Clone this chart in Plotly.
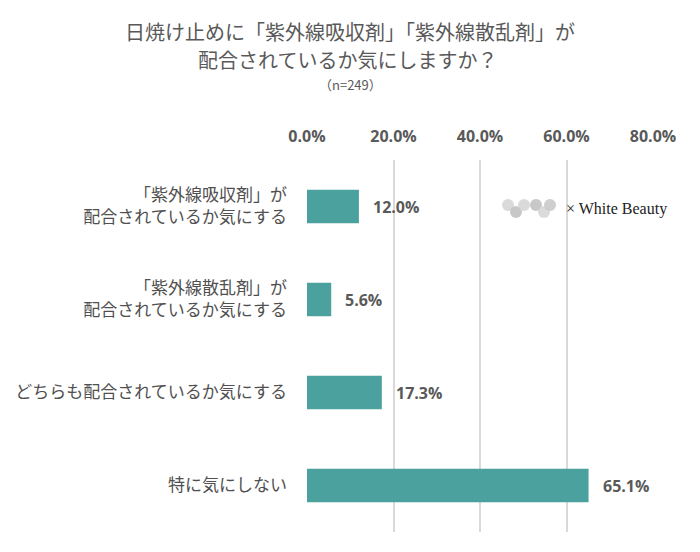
import plotly.graph_objects as go

categories = [
    "「紫外線吸収剤」が<br>配合されているか気にする",
    "「紫外線散乱剤」が<br>配合されているか気にする",
    "どちらも配合されているか気にする",
    "特に気にしない",
]
values = [12.0, 5.6, 17.3, 65.1]
tick_vals = [0, 20, 40, 60, 80]
tick_text = ["0.0%", "20.0%", "40.0%", "60.0%", "80.0%"]

JP = "Noto Sans CJK JP"
BAR = "#4BA19D"
GREY = "#595959"

# page body adds an 8px offset; positions below are screen pixels
OFF = 8
W, H = 700, 552
L, T = 307 - OFF, 160 - OFF
pw, ph = 346, 372
R = W - L - pw
B = H - T - ph
def px(x): return (x - OFF - L) / pw
def py(y): return (H - B - (y - OFF)) / ph

fig = go.Figure()
fig.add_trace(go.Bar(
    y=categories, x=values, orientation="h",
    marker=dict(color=BAR, line=dict(width=0)),
    hoverinfo="skip",
))

annotations = []
for c, v in zip(categories, values):
    annotations.append(dict(
        x=v, y=c, xref="x", yref="y", text=f"{v:.1f}%", showarrow=False,
        xanchor="left", yanchor="middle", xshift=12,
        font=dict(family="Open Sans", size=16, color=GREY, weight="bold"),
    ))

annotations += [
    dict(text="日焼け止めに「紫外線吸収剤」「紫外線散乱剤」が",
         x=px(350), y=py(31), xref="paper", yref="paper", showarrow=False,
         xanchor="center", yanchor="middle",
         font=dict(family=JP, size=20, color=GREY)),
    dict(text="配合されているか気にしますか？",
         x=px(347), y=py(59), xref="paper", yref="paper", showarrow=False,
         xanchor="center", yanchor="middle",
         font=dict(family=JP, size=20, color=GREY)),
    dict(text="（n=249）", x=px(350), y=py(85), xref="paper", yref="paper",
         showarrow=False, xanchor="center", yanchor="middle",
         font=dict(family=JP, size=13, color=GREY)),
    dict(text="× White Beauty", x=px(616), y=py(209), xref="paper", yref="paper",
         showarrow=False, xanchor="center", yanchor="middle",
         font=dict(family="Liberation Serif", size=16, color="#222222")),
]

fig.update_layout(
    width=W, height=H,
    margin=dict(l=L, r=R, t=T, b=B),
    paper_bgcolor="white", plot_bgcolor="white",
    bargap=0.64,
    showlegend=False,
    font=dict(family=JP, color="#505050"),
    xaxis=dict(
        range=[0, 80], side="top", automargin=False,
        tickvals=tick_vals, ticktext=tick_text,
        tickfont=dict(family="Open Sans", size=16, color=GREY, weight="bold"),
        showgrid=True, gridcolor="#D9D9D9", gridwidth=2,
        zeroline=False, showline=False, ticks="", ticklabelstandoff=14,
        fixedrange=True,
    ),
    yaxis=dict(
        autorange="reversed", automargin=False,
        tickfont=dict(family=JP, size=17, color="#505050"),
        showgrid=False, zeroline=False, showline=False,
        ticks="", ticklabelstandoff=19,
    ),
    annotations=annotations,
)

# decorative logo (grey)
logo = [(508, 205, "#D6D6D6"), (516, 212, "#C2C2C2"), (524, 205, "#D6D6D6"),
        (536, 205, "#C2C2C2"), (544, 212, "#D6D6D6"), (550, 205, "#CACACA")]
for cx, cy, c in logo:
    fig.add_shape(type="circle", xref="paper", yref="paper",
                  x0=px(cx - 6), x1=px(cx + 6), y0=py(cy + 6), y1=py(cy - 6),
                  fillcolor=c, line=dict(width=0), opacity=0.9, layer="above")

fig.write_html("out.html")
